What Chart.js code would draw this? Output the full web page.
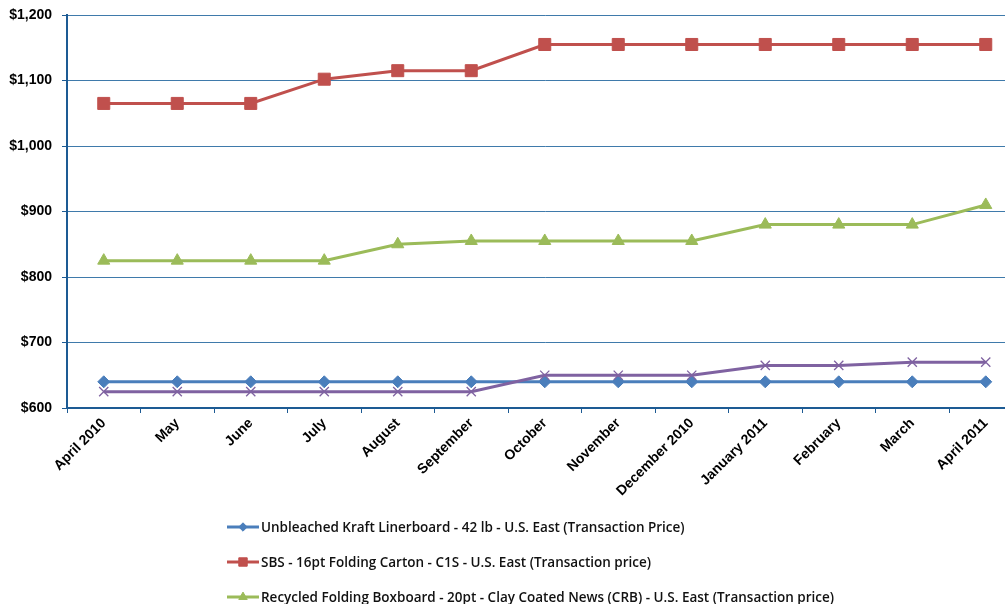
<!DOCTYPE html>
<html>
<head>
<meta charset="utf-8">
<script src="https://cdn.jsdelivr.net/npm/chart.js@4/dist/chart.umd.min.js"></script>
<style>
  html, body { margin: 0; padding: 0; width: 1005px; height: 604px; overflow: hidden; background: #fff; }
  #wrap { position: relative; width: 1032px; height: 604px; }
  #legend { position: absolute; left: 227px; top: 509px; font-family: "Open Sans", sans-serif; font-weight: 600; font-size: 13.5px; color: #111; }
  #legend .item { display: flex; align-items: center; height: 35px; }
  #legend canvas { display: block; margin-right: 2px; }
</style>
</head>
<body>
<div id="wrap">
  <canvas id="chart"></canvas>
  <div id="legend"></div>
</div>
<script>
// Monthly board prices, USD per ton
const months = ['April 2010', 'May', 'June', 'July', 'August', 'September', 'October',
  'November', 'December 2010', 'January 2011', 'February', 'March', 'April 2011'];

const kraftLinerboard = [640, 640, 640, 640, 640, 640, 640, 640, 640, 640, 640, 640, 640];
const sbsFoldingCarton = [1065, 1065, 1065, 1102, 1115, 1115, 1155, 1155, 1155, 1155, 1155, 1155, 1155];
const crbBoxboard = [825, 825, 825, 825, 850, 855, 855, 855, 855, 880, 880, 880, 910];
const recycledBoxboard = [625, 625, 625, 625, 625, 625, 650, 650, 650, 665, 665, 670, 670];

const seriesLabels = [
  'Unbleached Kraft Linerboard - 42 lb - U.S. East (Transaction Price)',
  'SBS - 16pt Folding Carton - C1S - U.S. East (Transaction price)',
  'Recycled Folding Boxboard - 20pt - Clay Coated News (CRB) - U.S. East (Transaction price)'
];

const yTicks = [600, 700, 800, 900, 1000, 1100, 1200];

const axisBlue = '#1d5b94';
const gridBlue = '#3f7aab';

function series(label, data, color, style, radius, inLegend) {
  return {
    label, data,
    borderColor: color, backgroundColor: color,
    borderWidth: 3,
    pointStyle: style, pointRadius: radius, pointHoverRadius: radius,
    pointBorderColor: color, pointBackgroundColor: color,
    pointBorderWidth: style === 'crossRot' ? 1.3 : 1,
    tension: 0, inLegend
  };
}

const datasets = [
  series('Recycled boxboard', recycledBoxboard, '#7f62a1', 'crossRot', 6.5, false),
  series(seriesLabels[0], kraftLinerboard, '#4a7ebb', 'rectRot', 6, true),
  series(seriesLabels[1], sbsFoldingCarton, '#c0504d', 'rect', 8.5, true),
  series(seriesLabels[2], crbBoxboard, '#9bbb59', 'triangle', 7, true)
];

const tickFont = { family: 'Liberation Sans, Arial, sans-serif', size: 14, weight: 'bold' };

const chart = new Chart(document.getElementById('chart'), {
  type: 'line',
  data: { labels: months, datasets },
  options: {
    responsive: true,
    maintainAspectRatio: false,
    animation: false,
    layout: { padding: { left: 0, top: 15, right: 4, bottom: 0 } },
    plugins: { legend: { display: false }, tooltip: { enabled: false } },
    scales: {
      x: {
        offset: true,
        border: { color: axisBlue, width: 2 },
        grid: { offset: true, drawOnChartArea: false, drawTicks: true, tickLength: 5, color: axisBlue, lineWidth: 1 },
        ticks: {
          minRotation: 45, maxRotation: 45, autoSkip: false, padding: 2,
          color: '#000', font: tickFont
        },
        afterFit: s => { s.height = 196; s.paddingLeft = 0; s.paddingRight = 0; }
      },
      y: {
        min: 600, max: 1200,
        afterBuildTicks: s => { s.ticks = yTicks.map(v => ({ value: v })); },
        border: { color: axisBlue, width: 2 },
        grid: { color: gridBlue, lineWidth: 1, drawTicks: true, tickLength: 5, tickColor: axisBlue },
        ticks: {
          padding: 10, color: '#000', font: tickFont,
          callback: v => '$' + Number(v).toLocaleString('en-US')
        },
        afterFit: s => { s.width = 67; s.paddingTop = 0; s.paddingBottom = 0; }
      }
    }
  }
});

// Legend rows: line sample with the series marker, then its name
const legend = document.getElementById('legend');
chart.data.datasets.forEach(ds => {
  if (!ds.inLegend) return;
  const row = document.createElement('div');
  row.className = 'item';
  const c = document.createElement('canvas');
  c.width = 32; c.height = 16;
  const ctx = c.getContext('2d');
  ctx.strokeStyle = ds.borderColor; ctx.lineWidth = 3;
  ctx.beginPath(); ctx.moveTo(0, 8); ctx.lineTo(32, 8); ctx.stroke();
  ctx.fillStyle = ds.backgroundColor; ctx.strokeStyle = ds.borderColor; ctx.lineWidth = 1;
  Chart.helpers.drawPoint(ctx, { pointStyle: ds.pointStyle, radius: ds.pointRadius * 0.7, borderWidth: 1 }, 16, 8);
  row.appendChild(c);
  const t = document.createElement('span');
  t.textContent = ds.label;
  row.appendChild(t);
  legend.appendChild(row);
});
</script>
</body>
</html>
